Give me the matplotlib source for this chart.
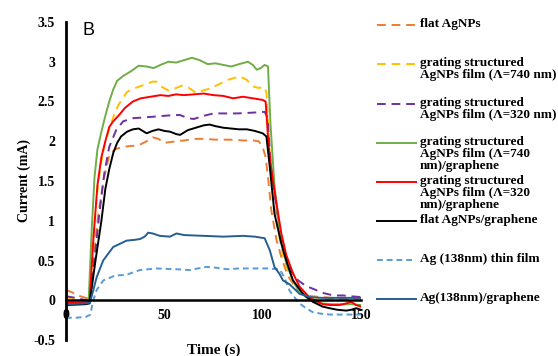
import matplotlib
matplotlib.use("Agg")
import matplotlib.pyplot as plt
from matplotlib.lines import Line2D

# ---------------- data ----------------
t_orange = [0, 3, 6, 10, 12, 14, 16, 19, 22, 25, 29, 33, 37, 41, 44, 47, 50, 53, 60, 66, 70, 76, 83, 90, 95, 98, 100, 101.5, 102.7, 104.4, 107, 110, 113, 117, 121, 125, 130, 135, 140, 145, 150]
v_orange = [0.13, 0.1, 0.06, 0.03, 0.02, 0.5, 1.0, 1.5, 1.83, 1.9, 1.93, 1.94, 1.95, 2.0, 2.05, 2.03, 1.98, 1.99, 2.01, 2.03, 2.03, 2.02, 2.02, 2.01, 2.01, 2.0, 1.93, 1.8, 1.55, 1.13, 0.76, 0.5, 0.3, 0.15, 0.08, 0.05, 0.04, 0.03, 0.03, 0.03, 0.03]

t_yellow = [0, 5, 10, 12, 14, 16, 18, 20, 22, 24, 26.5, 28.5, 31, 34, 37.5, 41, 44, 46, 49, 52, 55, 59, 62, 66, 70, 74, 78, 82, 86, 89, 92, 95, 98, 101, 102, 103.5, 105, 107, 109, 111, 114, 117, 120, 124, 130, 140, 150]
v_yellow = [0.03, 0.01, 0.0, -0.01, 0.8, 1.4, 1.75, 2.0, 2.15, 2.3, 2.45, 2.53, 2.62, 2.66, 2.69, 2.72, 2.75, 2.75, 2.68, 2.64, 2.66, 2.7, 2.68, 2.61, 2.64, 2.67, 2.72, 2.77, 2.8, 2.81, 2.77, 2.69, 2.67, 2.68, 2.6, 1.9, 1.45, 1.05, 0.72, 0.5, 0.3, 0.17, 0.1, 0.05, 0.02, 0.01, 0.0]

t_purple = [0, 5, 10, 12, 14, 17, 19.5, 22, 25.5, 29, 34, 40, 45, 50, 55, 58, 62, 65, 70, 75, 80, 87, 95, 101, 102.5, 104, 106, 108, 110, 112, 115, 118, 122, 126, 131, 136, 141, 145, 150]
v_purple = [0.05, 0.03, 0.0, -0.01, 0.4, 1.1, 1.6, 1.93, 2.14, 2.25, 2.29, 2.3, 2.31, 2.32, 2.33, 2.33, 2.29, 2.28, 2.32, 2.35, 2.35, 2.35, 2.36, 2.37, 2.3, 1.75, 1.35, 1.0, 0.75, 0.52, 0.35, 0.25, 0.18, 0.14, 0.09, 0.06, 0.06, 0.05, 0.04]

t_green = [0, 10, 11.5, 13, 14.5, 16, 18, 20, 22, 24, 26, 29, 33, 37, 41, 44.5, 48, 52, 56, 60, 64, 68, 72, 76, 80, 84, 88, 92.5, 95, 97, 99, 101, 102.7, 104, 106, 108, 110, 112, 115, 118, 122, 126, 130, 135, 140, 145, 150]
v_green = [-0.04, -0.03, -0.02, 0.85, 1.55, 1.9, 2.12, 2.32, 2.5, 2.65, 2.76, 2.82, 2.88, 2.95, 2.94, 2.92, 2.96, 3.0, 2.99, 3.02, 3.05, 3.02, 2.97, 2.98, 2.96, 2.94, 2.97, 3.0, 2.96, 2.9, 2.92, 2.96, 2.94, 2.2, 1.45, 1.0, 0.68, 0.47, 0.27, 0.13, 0.04, -0.02, -0.04, -0.05, -0.05, -0.05, -0.06]

t_red = [0, 10, 12, 14, 16, 18, 20, 22, 24, 27, 30, 34, 38, 43, 48, 52, 56, 60, 65, 70, 75, 80, 85, 90, 95, 100, 101.5, 103, 104.4, 107, 109.5, 112, 115.4, 118.8, 124, 130.6, 134, 139, 142.5, 145, 147.5, 150]
v_red = [-0.03, -0.03, -0.02, 0.8, 1.45, 1.8, 2.0, 2.18, 2.25, 2.33, 2.42, 2.5, 2.54, 2.56, 2.58, 2.57, 2.59, 2.58, 2.59, 2.6, 2.58, 2.57, 2.54, 2.56, 2.54, 2.52, 2.5, 1.95, 1.64, 1.22, 0.84, 0.57, 0.34, 0.17, 0.03, -0.05, -0.06, -0.06, -0.04, -0.02, -0.06, -0.08]

t_black = [0, 10, 12, 15, 18, 20, 22, 24, 26, 28, 31, 34, 37, 39, 41, 44, 47, 50, 53, 56, 58, 62, 66, 70, 73, 76, 80, 84, 88, 92, 96, 100, 101.9, 103.6, 106, 109.5, 112, 115.4, 120.5, 125.5, 130.5, 134, 138, 142.5, 145, 147.5, 150]
v_black = [-0.06, -0.05, -0.04, 0.5, 1.0, 1.4, 1.65, 1.85, 1.98, 2.06, 2.12, 2.15, 2.16, 2.13, 2.1, 2.13, 2.15, 2.13, 2.12, 2.09, 2.08, 2.14, 2.17, 2.2, 2.21, 2.19, 2.17, 2.16, 2.15, 2.15, 2.13, 2.1, 2.06, 1.68, 1.09, 0.71, 0.5, 0.25, 0.08, -0.02, -0.08, -0.1, -0.12, -0.13, -0.12, -0.1, -0.12]

t_lblue = [0, 5, 10, 12.5, 13.5, 15.6, 19, 22, 24.9, 30.8, 34, 37.6, 46, 56, 63, 67, 71.4, 76, 82, 88, 95, 102, 108.6, 111, 113.7, 115.4, 118.8, 122, 125.5, 130, 134, 142.5, 150]
v_lblue = [-0.22, -0.22, -0.21, -0.18, -0.03, 0.13, 0.25, 0.28, 0.31, 0.32, 0.35, 0.38, 0.4, 0.39, 0.38, 0.4, 0.42, 0.41, 0.39, 0.4, 0.4, 0.4, 0.39, 0.29, 0.12, 0.06, -0.04, -0.1, -0.15, -0.17, -0.18, -0.18, -0.18]

t_dblue = [0, 10, 12.2, 15.6, 18.9, 24, 30.8, 35, 37.6, 40, 41.8, 44, 47.7, 52.8, 56.2, 60, 70, 80, 90, 96, 101, 103.6, 106, 108.6, 110.3, 113.7, 118.8, 124, 130, 140, 150]
v_dblue = [-0.05, -0.04, -0.03, 0.29, 0.5, 0.67, 0.75, 0.76, 0.77, 0.8, 0.85, 0.84, 0.81, 0.8, 0.84, 0.82, 0.81, 0.8, 0.81, 0.8, 0.78, 0.63, 0.42, 0.33, 0.25, 0.2, 0.08, 0.04, 0.03, 0.03, 0.03]

labels = [
    "flat AgNPs",
    "grating structured\nAgNPs film (\u039b=740 nm)",
    "grating structured\nAgNPs film (\u039b=320 nm)",
    "grating structured\nAgNPs film (\u039b=740\nnm)/graphene",
    "grating structured\nAgNPs film (\u039b=320\nnm)/graphene",
    "flat AgNPs/graphene",
    "Ag (138nm) thin film",
    "Ag(138nm)/graphene",
]
x_ticks = [0, 50, 100, 150]
y_ticks = [-0.5, 0, 0.5, 1, 1.5, 2, 2.5, 3, 3.5]
y_tick_labels = ["-0.5", "0", "0.5", "1", "1.5", "2", "2.5", "3", "3.5"]

# ---------------- styling ----------------
series = [
    (t_orange, v_orange, "#ED7D31", (0, (4.5, 3))),
    (t_yellow, v_yellow, "#FFC000", (0, (4.5, 3))),
    (t_purple, v_purple, "#7030A0", (0, (4.5, 3))),
    (t_green, v_green, "#70AD47", "-"),
    (t_red, v_red, "#FF0000", "-"),
    (t_black, v_black, "#000000", "-"),
    (t_lblue, v_lblue, "#5B9BD5", (0, (3, 2))),
    (t_dblue, v_dblue, "#255E91", "-"),
]

W, H = 558, 356
fig = plt.figure(figsize=(W / 100, H / 100), dpi=100)
ax = fig.add_axes([66 / W, 16 / H, 295 / W, 318 / H])

serif = "Liberation Serif"
for (tt, vv, c, ls) in series:
    ax.plot(tt, vv, color=c, linestyle=ls, linewidth=1.4)

ax.set_xlim(0, 150)
ax.set_ylim(-0.5, 3.5)
for s in ["top", "right"]:
    ax.spines[s].set_visible(False)
ax.spines["left"].set_linewidth(2.0)
ax.spines["bottom"].set_position(("data", 0))
ax.spines["bottom"].set_linewidth(1.8)
ax.set_xticks(x_ticks)
ax.set_yticks(y_ticks)
ax.set_yticklabels(y_tick_labels)
ax.tick_params(axis="both", length=0)
ax.tick_params(axis="y", pad=8)
ax.tick_params(axis="x", pad=6)
for lab in ax.get_xticklabels() + ax.get_yticklabels():
    lab.set_fontfamily(serif)
    lab.set_fontweight("bold")
    lab.set_fontsize(10)

ax.set_xlabel("Time (s)", fontfamily=serif, fontweight="bold", fontsize=11)
ax.xaxis.set_label_coords(0.5, -0.012)
ax.set_ylabel("Current (mA)", fontfamily=serif, fontweight="bold", fontsize=10)
ax.yaxis.set_label_coords(-0.118, 0.503)

fig.text(83 / W, 1 - 35 / H, "B", fontfamily="Liberation Sans", fontsize=13,
         ha="left", va="baseline")

# ---------------- legend (manual, fixed spacing) ----------------
handle_py = [25, 64, 104, 143, 182, 221, 260, 299]
for (tt, vv, c, ls), lab, py in zip(series, labels, handle_py):
    yf = 1 - py / H
    fig.add_artist(Line2D([377 / W, 416 / W], [yf, yf], color=c, linestyle=ls,
                          linewidth=1.4, transform=fig.transFigure))
    fig.text(420 / W, 1 - (py - 7) / H, lab, fontfamily=serif, fontweight="bold",
             fontsize=9.5, ha="left", va="top", linespacing=1.0)

fig.savefig("out.png", dpi=100)
